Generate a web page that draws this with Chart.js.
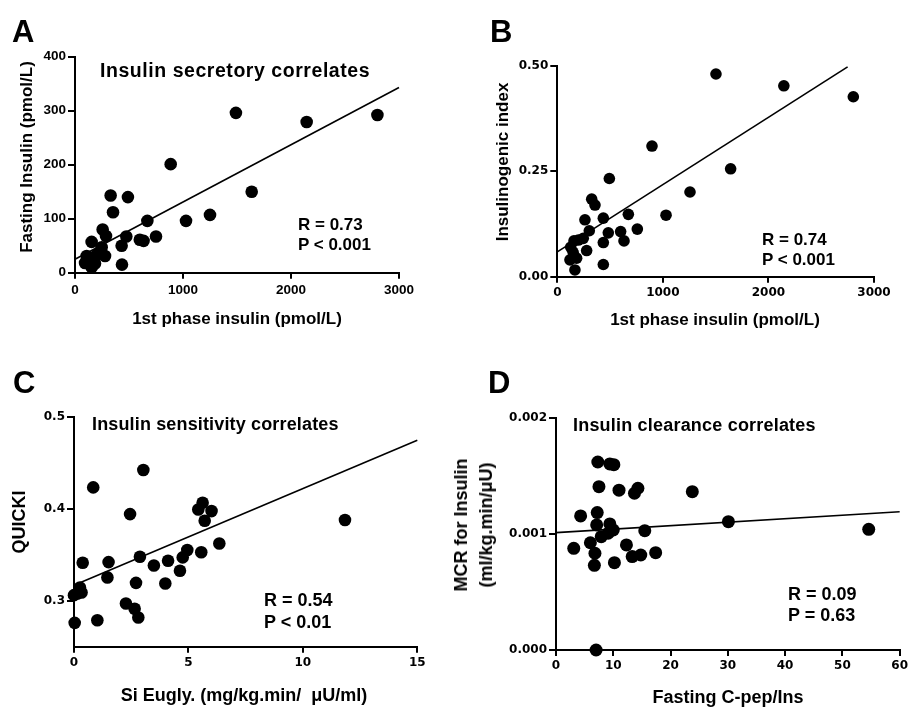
<!DOCTYPE html>
<html>
<head>
<meta charset="utf-8">
<script src="https://cdn.jsdelivr.net/npm/chart.js@4.4.1/dist/chart.umd.min.js"></script>
<style>
  html, body { margin: 0; padding: 0; background: #fff; }
  #fig { position: relative; width: 911px; height: 707px; overflow: hidden; font-family: "Liberation Sans", Arial, sans-serif; font-weight: bold; color: #000; }
  #fig canvas { position: absolute; }
  .t { position: absolute; line-height: 1; white-space: pre; }
</style>
</head>
<body>
<div id="fig">
  <canvas id="cA" width="455" height="340" style="left:0;top:0"></canvas>
  <canvas id="cB" width="456" height="340" style="left:455px;top:0"></canvas>
  <canvas id="cC" width="455" height="367" style="left:0;top:340px"></canvas>
  <canvas id="cD" width="456" height="367" style="left:455px;top:340px"></canvas>
</div>
<script>
// A: fasting insulin vs 1st phase insulin
const aX = [1490, 2145, 2800, 886, 1636, 1250, 1028, 670, 750, 600, 635, 490, 330, 352, 475, 432, 435, 256, 287, 154, 247, 278, 108, 145, 93, 154, 200, 185];
const aY = [296, 279, 292, 201, 150, 107, 96, 96, 67, 61, 59, 140, 143, 112, 67, 50, 15, 80, 68, 57, 47, 31, 31, 23, 18, 10, 33, 17];
const aFitX = [0, 3000];
const aFitY = [25, 343];
const aXTicks = [0, 1000, 2000, 3000];
const aYTicks = [0, 100, 200, 300, 400];

// B: insulinogenic index vs 1st phase insulin
const bX = [1503, 2146, 2804, 897, 1642, 1257, 1030, 673, 758, 600, 632, 493, 326, 357, 436, 483, 436, 436, 262, 303, 278, 246, 158, 127, 120, 183, 167, 199, 150];
const bY = [0.481, 0.453, 0.427, 0.310, 0.256, 0.201, 0.146, 0.148, 0.113, 0.107, 0.085, 0.233, 0.184, 0.170, 0.139, 0.104, 0.081, 0.029, 0.135, 0.109, 0.062, 0.091, 0.085, 0.070, 0.040, 0.044, 0.016, 0.087, 0.058];
const bFitX = [0, 2750];
const bFitY = [0.059, 0.498];
const bXTicks = [0, 1000, 2000, 3000];
const bYTicks = [0, 0.25, 0.5];

// C: QUICKI vs Si euglycemic clamp
const cX = [3.03, 0.84, 2.45, 5.43, 5.62, 6.01, 5.71, 11.84, 6.35, 5.56, 4.95, 4.75, 4.63, 4.11, 3.99, 3.49, 2.88, 2.71, 1.51, 1.46, 0.38, 2.27, 2.65, 2.81, 1.02, 0.03, 0, 0.26, 0.33, 0.15];
const cY = [0.4425, 0.4236, 0.3945, 0.3996, 0.4069, 0.3978, 0.3873, 0.388, 0.3625, 0.353, 0.3553, 0.3473, 0.3327, 0.3436, 0.3189, 0.3385, 0.348, 0.3196, 0.3422, 0.3255, 0.3415, 0.2971, 0.2913, 0.2818, 0.2789, 0.276, 0.3062, 0.3145, 0.309, 0.308];
const cFitX = [0, 15];
const cFitY = [0.317, 0.475];
const cXTicks = [0, 5, 10, 15];
const cYTicks = [0.3, 0.4, 0.5];
const cYMin = 0.25;

// D: MCR for insulin vs fasting C-peptide/insulin
const dX = [7.3, 9.4, 10.1, 7.5, 11.0, 13.7, 14.3, 23.8, 4.3, 7.2, 7.1, 9.4, 10.0, 7.9, 9.1, 30.1, 54.6, 15.5, 6.0, 12.3, 3.1, 6.8, 14.8, 13.3, 17.4, 10.2, 6.7, 7.0];
const dY = [0.001623, 0.001606, 0.0016, 0.00141, 0.00138, 0.001353, 0.001396, 0.001367, 0.001157, 0.001186, 0.00108, 0.001088, 0.001036, 0.000978, 0.001008, 0.001108, 0.001042, 0.00103, 0.000926, 0.000907, 0.000878, 0.000835, 0.00082, 0.000806, 0.00084, 0.000754, 0.000731, 0];
const dFitX = [0, 60];
const dFitY = [0.001013, 0.001194];
const dXTicks = [0, 10, 20, 30, 40, 50, 60];
const dYTicks = [0, 0.001, 0.002];

const fig = document.getElementById('fig');

function addText(txt, left, baseline, size, extra) {
  const el = document.createElement('div');
  el.className = 't';
  el.textContent = txt;
  el.style.fontSize = size + 'px';
  el.style.left = left + 'px';
  el.style.top = (baseline - 0.8465 * size) + 'px';
  if (extra) Object.assign(el.style, extra);
  fig.appendChild(el);
  return el;
}
function addCentered(txt, cx, baseline, size) {
  return addText(txt, cx, baseline, size, { transform: 'translateX(-50%)' });
}
function addVertical(txt, cx, cy, size, lh) {
  const el = document.createElement('div');
  el.className = 't';
  el.textContent = txt;
  el.style.fontSize = size + 'px';
  el.style.textAlign = 'center';
  if (lh) el.style.lineHeight = lh + 'px';
  el.style.left = cx + 'px';
  el.style.top = cy + 'px';
  el.style.transform = 'translate(-50%,-50%) rotate(-90deg)';
  fig.appendChild(el);
}

function makePanel(id, o) {
  const cv = document.getElementById(id);
  const W = cv.width, H = cv.height;
  const area = o.area; // left, top, right, bottom inside the canvas
  const fixTicks = arr => s => { s.ticks = arr.map(v => ({ value: v })); };
  const axisGrid = len => ({ display: true, drawOnChartArea: false, drawTicks: true, tickLength: len, color: '#000', lineWidth: 2 });
  return new Chart(cv, {
    type: 'scatter',
    data: { datasets: [
      { data: o.xs.map((x, i) => ({ x, y: o.ys[i] })), pointRadius: o.r, pointHoverRadius: o.r, backgroundColor: '#000', borderWidth: 0, clip: false },
      { data: o.fitX.map((x, i) => ({ x, y: o.fitY[i] })), showLine: true, borderColor: '#000', borderWidth: 1.6, pointRadius: 0, clip: false }
    ] },
    options: {
      responsive: false, animation: false, events: [],
      layout: { padding: { left: 0, top: area[1], right: W - area[2], bottom: 0 } },
      plugins: { legend: { display: false }, tooltip: { enabled: false } },
      scales: {
        x: {
          type: 'linear', min: o.xTicks[0], max: o.xTicks[o.xTicks.length - 1],
          afterBuildTicks: fixTicks(o.xTicks),
          afterFit: s => { s.height = H - area[3]; },
          grid: axisGrid(6), border: { display: true, color: '#000', width: 2 },
          ticks: { color: '#000', font: o.tickFont, padding: 3, maxRotation: 0, autoSkip: false, callback: v => String(v) }
        },
        y: {
          type: 'linear', min: o.yMin !== undefined ? o.yMin : o.yTicks[0], max: o.yTicks[o.yTicks.length - 1],
          afterBuildTicks: fixTicks(o.yTicks),
          afterFit: s => { s.width = area[0]; },
          grid: axisGrid(7), border: { display: true, color: '#000', width: 2 },
          ticks: { color: '#000', font: o.tickFont, padding: 2, autoSkip: false, callback: v => v.toFixed(o.yDec) }
        }
      }
    }
  });
}

const arialTicks = { family: 'Liberation Sans', weight: 'bold', size: 13.5 };
const dejaTicks = { family: 'DejaVu Sans', weight: 'bold', size: 12 };

makePanel('cA', { xs: aX, ys: aY, fitX: aFitX, fitY: aFitY, xTicks: aXTicks, yTicks: aYTicks, yDec: 0, r: 6.3, area: [75, 56.7, 399, 272.7], tickFont: arialTicks });
makePanel('cB', { xs: bX, ys: bY, fitX: bFitX, fitY: bFitY, xTicks: bXTicks, yTicks: bYTicks, yDec: 2, r: 5.8, area: [102.3, 66, 419, 276.7], tickFont: dejaTicks });
makePanel('cC', { xs: cX, ys: cY, fitX: cFitX, fitY: cFitY, xTicks: cXTicks, yTicks: cYTicks, yMin: cYMin, yDec: 1, r: 6.3, area: [74, 77.3, 417.3, 306.7], tickFont: dejaTicks });
makePanel('cD', { xs: dX, ys: dY, fitX: dFitX, fitY: dFitY, xTicks: dXTicks, yTicks: dYTicks, yDec: 3, r: 6.5, area: [101, 78.3, 446, 310], tickFont: dejaTicks });

// panel letters
addText('A', 12, 42, 31);
addText('B', 490, 42, 31);
addText('C', 13, 393, 31);
addText('D', 488, 393, 31);

// panel titles
addText('Insulin secretory correlates', 100, 78, 19.5, { letterSpacing: '0.55px' });
addText('Insulin sensitivity correlates', 92, 430, 18, { letterSpacing: '0.15px' });
addText('Insulin clearance correlates', 573, 431, 18, { letterSpacing: '0.2px' });

// statistics
addText('R = 0.73', 298, 230, 17);
addText('P < 0.001', 298, 250, 17);
addText('R = 0.74', 762, 245, 17);
addText('P < 0.001', 762, 265, 17);
addText('R = 0.54', 264, 606.7, 18);
addText('P < 0.01', 264, 628.3, 18);
addText('R = 0.09', 788, 600, 18);
addText('P = 0.63', 788, 621.7, 18);

// axis titles
addCentered('1st phase insulin (pmol/L)', 237, 324, 17);
addCentered('1st phase insulin (pmol/L)', 715, 325, 17);
addCentered('Si Eugly. (mg/kg.min/  μU/ml)', 244, 701.7, 18);
addCentered('Fasting C-pep/Ins', 728, 703, 18);
addVertical('Fasting Insulin (pmol/L)', 26, 157, 17);
addVertical('Insulinogenic index', 502, 162, 17);
addVertical('QUICKI', 19, 522, 18);
addVertical('MCR for Insulin\n(ml/kg.min/μU)', 474, 525, 18, 25);
</script>
</body>
</html>
